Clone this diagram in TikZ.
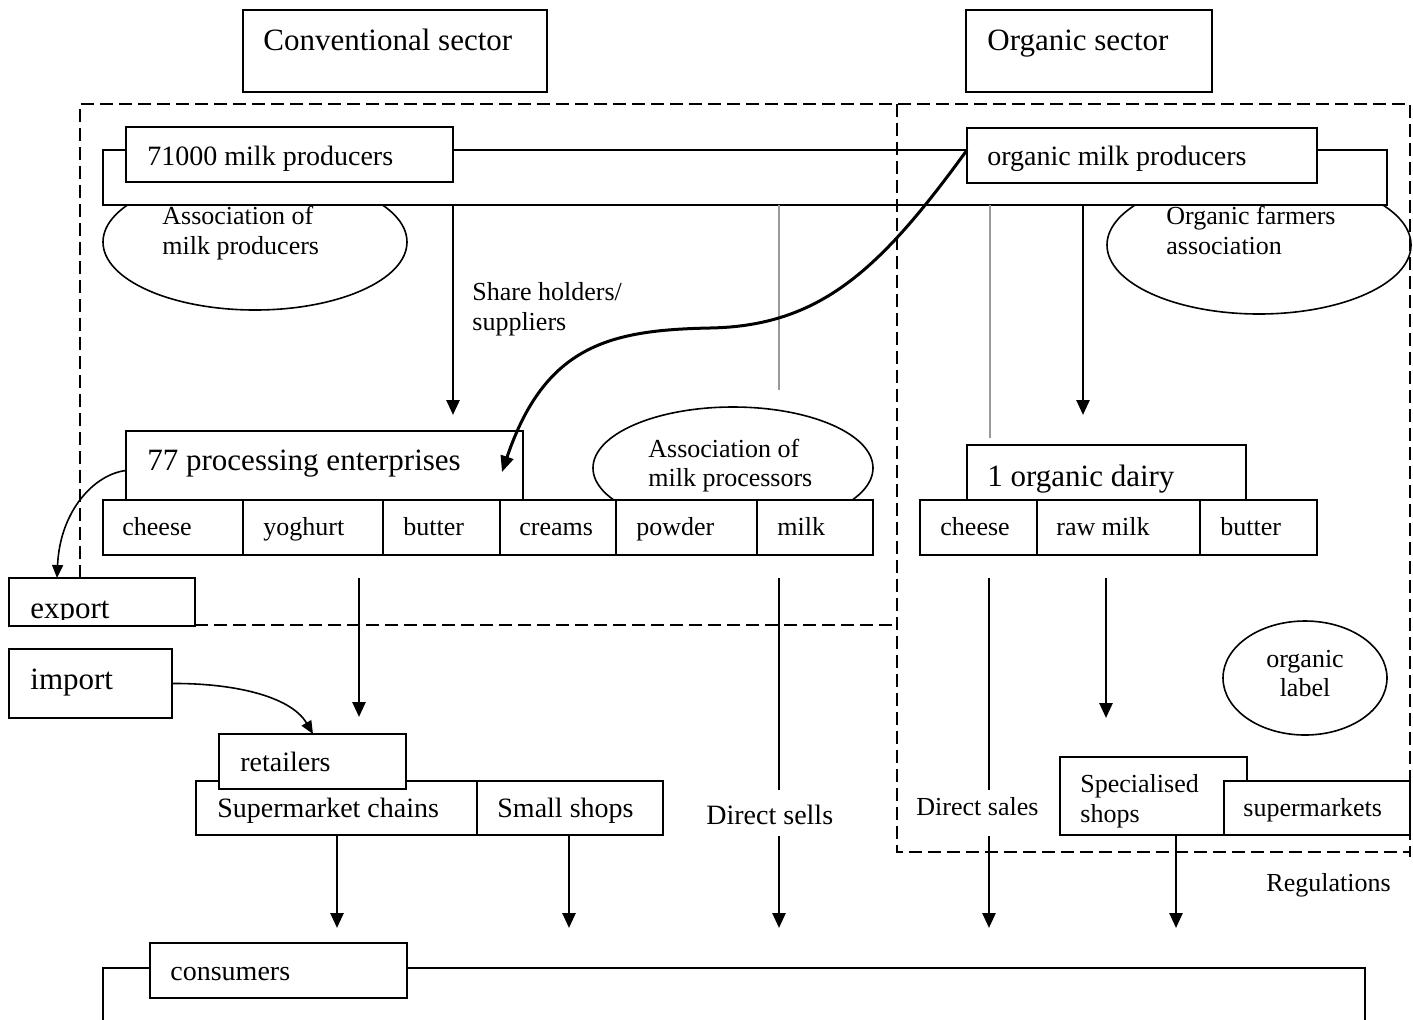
\documentclass[tikz,border=0pt]{standalone}
\usepackage{fontspec}
\setmainfont{Liberation Serif}
\usetikzlibrary{arrows.meta,shapes.geometric}
\begin{document}
\begin{tikzpicture}[x=0.5pt,y=-0.5pt,
  box/.style={draw,line width=0.8pt,fill=white,rectangle,inner sep=0pt,outer sep=0pt,anchor=north west},
  oval/.style={draw,line width=0.8pt,fill=white,ellipse,inner sep=0pt,outer sep=0pt},
  tA/.style={font=\fontsize{15.5}{18}\selectfont,inner sep=0pt,anchor=base west},
  tB/.style={font=\fontsize{14}{17}\selectfont,inner sep=0pt,anchor=base west},
  tC/.style={font=\fontsize{13}{15}\selectfont,inner sep=0pt,anchor=base west},
  arr/.style={line width=1.3pt,-{Triangle[length=7.5pt,width=6.5pt]}},
  solidline/.style={line width=1.3pt},
  greyline/.style={line width=1.3pt,draw=black!40},
  thinarr/.style={line width=0.8pt,-{Triangle[length=6.5pt,width=5.5pt]}},
  bigarr/.style={line width=1.5pt,-{Triangle[length=8pt,width=6.5pt]}},
  dashframe/.style={line width=0.9pt,dash pattern=on 6.5pt off 3pt},
]
\useasboundingbox (0,0) rectangle (1413,1019);
\clip (0,0) rectangle (1413,1019);

% ellipses behind rows
\node[oval,minimum width=152pt,minimum height=68pt] (amp) at (255,242) {};
\node[oval,minimum width=152pt,minimum height=69pt] (ofa) at (1259,245) {};
% producers
\node[box,minimum width=642pt,minimum height=27.5pt] (prodrow) at (103,150) {};
\node[box,minimum width=163.5pt,minimum height=27.5pt] (mp) at (126,127) {};
\node[box,minimum width=175pt,minimum height=27.5pt] (omp) at (967,128) {};
% sector titles
\node[box,minimum width=152pt,minimum height=41pt] (conv) at (243,10) {};
\node[box,minimum width=123pt,minimum height=41pt] (orgs) at (966,10) {};
% processing
\node[oval,minimum width=140pt,minimum height=61pt] (amproc) at (733,468) {};
\node[box,minimum width=198.5pt,minimum height=39.5pt] (proc) at (126,431) {};
\node[box,minimum width=70pt,minimum height=27.5pt] (c1) at (103,500) {};
\node[box,minimum width=70pt,minimum height=27.5pt] (c2) at (243,500) {};
\node[box,minimum width=58.5pt,minimum height=27.5pt] (c3) at (383,500) {};
\node[box,minimum width=58pt,minimum height=27.5pt] (c4) at (500,500) {};
\node[box,minimum width=70.5pt,minimum height=27.5pt] (c5) at (616,500) {};
\node[box,minimum width=58pt,minimum height=27.5pt] (c6) at (757,500) {};
% organic dairy
\node[box,minimum width=139.5pt,minimum height=30pt] (dairy) at (967,445) {};
\node[box,minimum width=58.5pt,minimum height=27.5pt] (o1) at (920,500) {};
\node[box,minimum width=81.5pt,minimum height=27.5pt] (o2) at (1037,500) {};
\node[box,minimum width=58.5pt,minimum height=27.5pt] (o3) at (1200,500) {};
% export / import
\node[box,minimum width=93pt,minimum height=24pt] (export) at (9,578) {};
\node[box,minimum width=81.5pt,minimum height=34.5pt] (import) at (9,649) {};
% retail
\node[box,minimum width=140.5pt,minimum height=27pt] (smc) at (196,781) {};
\node[box,minimum width=93pt,minimum height=27pt] (ssh) at (477,781) {};
\node[box,minimum width=93.5pt,minimum height=27.5pt] (ret) at (219,734) {};
\node[box,minimum width=93.5pt,minimum height=39pt] (spec) at (1060,757) {};
\node[box,minimum width=93pt,minimum height=27pt] (smk) at (1224,781) {};
\node[oval,minimum width=82pt,minimum height=57pt] (olab) at (1305,678) {};
% consumers
\node[box,minimum width=631pt,minimum height=40pt] (consrow) at (103,968) {};
\node[box,minimum width=128.5pt,minimum height=27.5pt] (cons) at (150,943) {};

% dashed frames
\draw[dashframe] (80,578) -- (80,104) -- (1410,104) -- (1410,857);
\draw[dashframe] (195,625) -- (897,625);
\draw[dashframe] (897,104) -- (897,852) -- (1410,852);

% connectors from producers
\coordinate (tipA) at (453,415);
\draw[arr] (prodrow.south -| tipA) -- (tipA);
\coordinate (g1) at (779,390);
\draw[greyline] (prodrow.south -| g1) -- (g1);
\coordinate (g2) at (990,438);
\draw[greyline] (prodrow.south -| g2) -- (g2);
\coordinate (tipB) at (1083,415);
\draw[arr] (prodrow.south -| tipB) -- (tipB);
\coordinate (tipS) at (502,472);
\draw[bigarr] (omp.west |- prodrow.north) .. controls (880,270) and (820,326) .. (710,328)
  .. controls (610,330) and (545,345) .. (tipS);

% export / import
\coordinate (expTip) at (57,578);
\draw[thinarr] (proc.west) .. controls (95,474) and (60,510) .. (expTip);
\coordinate (impTip) at (313,734);
\draw[thinarr] (import.east) .. controls (230,683) and (290,695) .. (impTip);

% lower connectors
\coordinate (d1s) at (359,578); \coordinate (d1e) at (359,717);
\draw[arr] (d1s) -- (d1e);
\coordinate (d2s) at (779,578); \coordinate (d2m) at (779,790);
\coordinate (d2n) at (779,836); \coordinate (d2e) at (779,928);
\draw[solidline] (d2s) -- (d2m);
\draw[arr] (d2n) -- (d2e);
\coordinate (d3s) at (989,578); \coordinate (d3m) at (989,790);
\coordinate (d3n) at (989,836); \coordinate (d3e) at (989,928);
\draw[solidline] (d3s) -- (d3m);
\draw[arr] (d3n) -- (d3e);
\coordinate (d4s) at (1106,578); \coordinate (d4e) at (1106,718);
\draw[arr] (d4s) -- (d4e);
\coordinate (e1) at (337,928);
\draw[arr] (smc.south -| e1) -- (e1);
\coordinate (e2) at (569,928);
\draw[arr] (ssh.south -| e2) -- (e2);
\coordinate (e5) at (1176,928);
\draw[arr] (spec.south -| e5) -- (e5);

% texts
\node[tA] (tconv) at (263,50) {Conventional sector};
\node[tA] (torg) at (987,50) {Organic sector};
\node[tB] (tmp) at (147,165) {71000 milk producers};
\node[tB] (tomp) at (987,165) {organic milk producers};
\node[tC] (tamp1) at (162,224) {Association of};
\node[tC] (tamp2) at (162,254) {milk producers};
\node[tC] (tofa1) at (1166,224) {Organic farmers};
\node[tC] (tofa2) at (1166,254) {association};
\node[tC] (tsh1) at (472,300) {Share holders/};
\node[tC] (tsh2) at (472,330) {suppliers};
\node[tA] (tproc) at (147,470) {77 processing enterprises};
\node[tC] (tapr1) at (648,457) {Association of};
\node[tC] (tapr2) at (648,486) {milk processors};
\node[tA] (tdairy) at (987,486) {1 organic dairy};
\node[tC] (tc1) at (122,535) {cheese};
\node[tC] (tc2) at (263,535) {yoghurt};
\node[tC] (tc3) at (403,535) {butter};
\node[tC] (tc4) at (519,535) {creams};
\node[tC] (tc5) at (636,535) {powder};
\node[tC] (tc6) at (777,535) {milk};
\node[tC] (to1) at (940,535) {cheese};
\node[tC] (to2) at (1056,535) {raw milk};
\node[tC] (to3) at (1220,535) {butter};
\begin{scope}
\clip (9,578) rectangle (195,619);
\node[tA] (texp) at (30,618) {export};
\end{scope}
\node[tA] (timp) at (30,689) {import};
\node[tB] (tret) at (240,771) {retailers};
\node[tB] (tsmc) at (217,817) {Supermarket chains};
\node[tB] (tssh) at (497,817) {Small shops};
\node[tB] (tdsells) at (706,824) {Direct sells};
\node[tC] (tdsales) at (916,815) {Direct sales};
\node[tC] (tspec1) at (1080,792) {Specialised};
\node[tC] (tspec2) at (1080,822) {shops};
\node[tC] (tsmk) at (1243,816) {supermarkets};
\node[tC,anchor=base] (tol1) at (1305,667) {organic};
\node[tC,anchor=base] (tol2) at (1305,696) {label};
\node[tC] (treg) at (1266,891) {Regulations};
\node[tB] (tcons) at (170,980) {consumers};
\end{tikzpicture}
\end{document}
